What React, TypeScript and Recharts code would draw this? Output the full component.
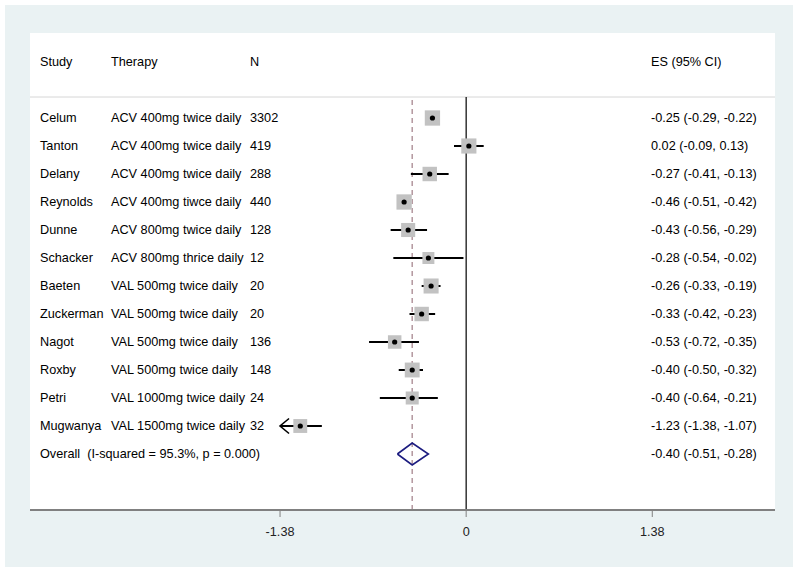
// Forest plot: HSV-2 suppressive therapy studies, effect sizes with 95% CI,
// Stata-like styling (bluish-grey graph region, white plot region).
import * as React from "react";
import { ScatterChart, Scatter, XAxis, YAxis, ReferenceLine, ErrorBar } from "recharts";

const studies = [
  "Celum", "Tanton", "Delany", "Reynolds", "Dunne", "Schacker",
  "Baeten", "Zuckerman", "Nagot", "Roxby", "Petri", "Mugwanya",
];
const therapies = [
  "ACV 400mg twice daily", "ACV 400mg twice daily", "ACV 400mg twice daily",
  "ACV 400mg tiwce daily", "ACV 800mg twice daily", "ACV 800mg thrice daily",
  "VAL 500mg twice daily", "VAL 500mg twice daily", "VAL 500mg twice daily",
  "VAL 500mg twice daily", "VAL 1000mg twice daily", "VAL 1500mg twice daily",
];
const sampleSizes = [3302, 419, 288, 440, 128, 12, 20, 20, 136, 148, 24, 32];
const effects = [-0.25, 0.02, -0.27, -0.46, -0.43, -0.28, -0.26, -0.33, -0.53, -0.4, -0.4, -1.23];
const ciLow = [-0.29, -0.09, -0.41, -0.51, -0.56, -0.54, -0.33, -0.42, -0.72, -0.5, -0.64, -1.38];
const ciHigh = [-0.22, 0.13, -0.13, -0.42, -0.29, -0.02, -0.19, -0.23, -0.35, -0.32, -0.21, -1.07];
const weights = [9.0, 8.8, 8.0, 9.0, 7.6, 5.5, 8.7, 8.0, 7.0, 8.5, 6.5, 7.4];

const overallLabel = "Overall  (I-squared = 95.3%, p = 0.000)";
const overallES = -0.4;
const overallLow = -0.51;
const overallHigh = -0.28;

const xTicks = [-1.38, 0, 1.38];

const FONT = "'Liberation Sans', Arial, sans-serif";
const FS = 12.7;
const f2 = (v: number) => v.toFixed(2);

const rows = studies.map((s, i) => ({
  x: effects[i],
  y: i + 1,
  study: s,
  therapy: therapies[i],
  n: String(sampleSizes[i]),
  ci: `${f2(effects[i])} (${f2(ciLow[i])}, ${f2(ciHigh[i])})`,
  w: weights[i],
  err: [effects[i] - Math.max(ciLow[i], xTicks[0]), ciHigh[i] - effects[i]],
}));
const overallRow = studies.length + 1;
const labelRows = [
  ...rows,
  { x: overallES, y: overallRow, study: overallLabel, therapy: "", n: "", ci: `${f2(overallES)} (${f2(overallLow)}, ${f2(overallHigh)})` },
];
const arrows = rows.filter((r, i) => ciLow[i] <= xTicks[0]).map((r) => ({ x: xTicks[0], y: r.y }));
const DH = 0.39; // diamond half height in row units
const diamond = [
  { x: overallLow, y: overallRow },
  { x: overallES, y: overallRow - DH },
  { x: overallHigh, y: overallRow },
  { x: overallES, y: overallRow + DH },
  { x: overallLow, y: overallRow },
];

type SP = { cx?: number; cy?: number; payload?: any };

function RowText({ cy = 0, payload }: SP) {
  const t = { fontFamily: FONT, fontSize: FS, fill: "#000", dy: "0.35em", style: { whiteSpace: "pre" as const } };
  return (
    <g>
      <text x={40} y={cy} {...t}>{payload.study}</text>
      {payload.therapy && <text x={111} y={cy} {...t}>{payload.therapy}</text>}
      {payload.n && <text x={250} y={cy} {...t}>{payload.n}</text>}
      <text x={651} y={cy} {...t}>{payload.ci}</text>
    </g>
  );
}

function Box({ cx = 0, cy = 0, payload }: SP) {
  const s = 5.1 * Math.sqrt(payload.w);
  return <rect x={cx - s / 2} y={cy - s / 2} width={s} height={s} fill="#c2c2c2" />;
}

function Dot({ cx = 0, cy = 0 }: SP) {
  return <circle cx={cx} cy={cy} r={2.6} fill="#000" />;
}

function Arrow({ cx = 0, cy = 0 }: SP) {
  return <path d={`M${cx + 9},${cy - 7.5} L${cx},${cy} L${cx + 9},${cy + 7.5}`} fill="none" stroke="#000" strokeWidth={1.6} />;
}

const headStyle = (left: number): React.CSSProperties => ({
  position: "absolute", left, top: 54, lineHeight: "16px", fontSize: FS, fontFamily: FONT, color: "#000",
});

export default function App() {
  return (
    <div style={{ position: "absolute", left: 0, top: 0, width: 800, height: 574, background: "#fff" }}>
      <div style={{ position: "absolute", left: 5, top: 5, width: 788, height: 562, background: "#eaf2f3" }} />
      <div style={{ position: "absolute", left: 30, top: 33, width: 745, height: 477, background: "#fff" }} />
      <div style={headStyle(40)}>Study</div>
      <div style={headStyle(111)}>Therapy</div>
      <div style={headStyle(250)}>N</div>
      <div style={headStyle(651)}>ES (95% CI)</div>
      <div style={{ position: "absolute", left: 0, top: 0 }}>
        <ScatterChart width={800} height={574} margin={{ top: 97, right: 25, bottom: 34, left: 30 }}>
          <XAxis
            type="number"
            dataKey="x"
            domain={[-3.234, 2.29]}
            ticks={xTicks}
            allowDataOverflow
            height={30}
            tickFormatter={(v) => (v === 0 ? "0" : f2(v as number))}
            tick={{ fill: "#222", fontSize: FS, fontFamily: FONT }}
            axisLine={{ stroke: "#808080", strokeWidth: 2 }}
            tickLine={{ stroke: "#808080" }}
            tickSize={7}
            tickMargin={10}
          />
          <YAxis type="number" dataKey="y" domain={[0.25, 15]} reversed hide allowDataOverflow />
          <ReferenceLine y={0.25} stroke="#d6d6d6" strokeWidth={1} />
          <ReferenceLine x={0} stroke="#000" strokeWidth={1.2} />
          <ReferenceLine x={overallES} stroke="#b3979f" strokeWidth={1.5} strokeDasharray="5 4" />
          <Scatter data={labelRows} shape={RowText} isAnimationActive={false} />
          <Scatter data={rows} shape={Box} isAnimationActive={false} />
          <Scatter data={rows} shape={Dot} isAnimationActive={false}>
            <ErrorBar dataKey="err" direction="x" width={0} stroke="#000" strokeWidth={2} />
          </Scatter>
          <Scatter data={arrows} shape={Arrow} isAnimationActive={false} />
          <Scatter
            data={diamond}
            line={{ stroke: "#1c1c80", strokeWidth: 1.6 }}
            shape={() => <g />}
            isAnimationActive={false}
          />
        </ScatterChart>
      </div>
    </div>
  );
}
